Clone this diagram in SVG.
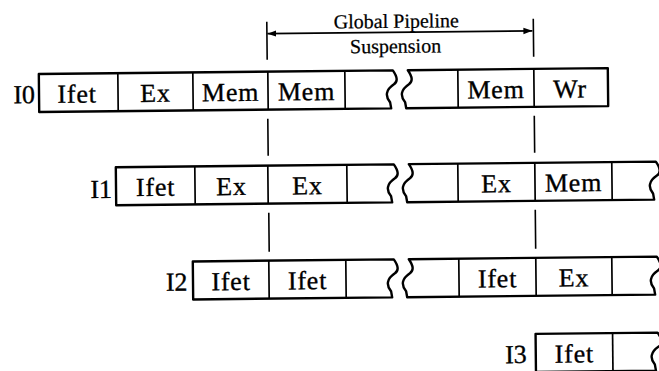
<svg xmlns="http://www.w3.org/2000/svg" width="659" height="371" viewBox="0 0 659 371">
  <defs>
    <marker id="ah" markerWidth="10" markerHeight="8" refX="9" refY="4" orient="auto-start-reverse" markerUnits="userSpaceOnUse">
      <path d="M0,0.8 L9,4 L0,7.2 Z" fill="#000"/>
    </marker>
  </defs>
  <style>
    .box{fill:#fff;stroke:#000;stroke-width:2.4;stroke-linejoin:round}
    .div{stroke:#000;stroke-width:1.7}
    .guide{stroke:#000;stroke-width:1.6;fill:none}
    .stg{font-family:"Liberation Serif","Times New Roman",serif;font-size:26px;letter-spacing:0.8px;text-anchor:middle;fill:#000;stroke:#000;stroke-width:0.35}
    .row{font-family:"Liberation Serif","Times New Roman",serif;font-size:26px;text-anchor:end;fill:#000;stroke:#000;stroke-width:0.35}
    .ttl{font-family:"Liberation Serif","Times New Roman",serif;font-size:20px;text-anchor:middle;fill:#000;stroke:#000;stroke-width:0.25}
  </style>
  <rect width="659" height="371" fill="#fff"/>
  <g transform="rotate(-0.6 330 185)">
    <!-- suspension window: guide lines and span arrow -->
    <g id="connectors">
      <path class="guide" d="M268.5,21 V59 M268.5,118 V155 M268.5,212 V251"/>
      <path class="guide" d="M535,21 V59 M535,118 V155 M535,212 V251"/>
      <line class="guide" x1="269" y1="33" x2="534" y2="33" stroke-width="1.3" marker-start="url(#ah)" marker-end="url(#ah)"/>
    </g>
    <g id="suspension-label">
      <text class="ttl" x="398" y="28.5">Global Pipeline</text>
      <text class="ttl" x="397" y="53.5">Suspension</text>
    </g>

    <!-- instruction I0 -->
    <g id="I0">
      <text class="row" x="36" y="100">I0</text>
      <path class="box" d="M40,71 H394 q7,10 1,14 q-12,8 -4,18 l1,6 H40 Z"/>
      <path class="box" d="M409,71 H609 V109 H407 l-1,-6 q-8,-10 4,-18 q6,-4 -1,-14 Z"/>
      <path class="div" d="M119,71 V109 M194,71 V109 M269,71 V109 M346,71 V109 M459,71 V109 M535,71 V109"/>
      <text class="stg" x="78" y="100">Ifet</text>
      <text class="stg" x="156.5" y="100">Ex</text>
      <text class="stg" x="231.5" y="100">Mem</text>
      <text class="stg" x="307.5" y="100">Mem</text>
      <text class="stg" x="497" y="100">Mem</text>
      <text class="stg" x="571" y="100">Wr</text>
    </g>

    <!-- instruction I1 -->
    <g id="I1">
      <text class="row" x="112" y="195.5">I1</text>
      <path class="box" d="M116,165 H394 q7,10 1,14 q-12,8 -4,18 l1,6 H116 Z"/>
      <path class="box" d="M409,165 H656 q7,10 1,14 q-12,8 -4,18 l1,6 H407 l-1,-6 q-8,-10 4,-18 q6,-4 -1,-14 Z"/>
      <path class="div" d="M195,165 V203 M268,165 V203 M347,165 V203 M458,165 V203 M535,165 V203 M612,165 V203"/>
      <text class="stg" x="155.5" y="194">Ifet</text>
      <text class="stg" x="231.5" y="194">Ex</text>
      <text class="stg" x="307.5" y="194">Ex</text>
      <text class="stg" x="496.5" y="194">Ex</text>
      <text class="stg" x="573.5" y="194">Mem</text>
    </g>

    <!-- instruction I2 -->
    <g id="I2">
      <text class="row" x="186.5" y="289">I2</text>
      <path class="box" d="M192,260 H393 q7,10 1,14 q-12,8 -4,18 l1,6 H192 Z"/>
      <path class="box" d="M408,260 H656 q7,10 1,14 q-12,8 -4,18 l1,6 H406 l-1,-6 q-8,-10 4,-18 q6,-4 -1,-14 Z"/>
      <path class="div" d="M268,260 V298 M345,260 V298 M458,260 V298 M535,260 V298 M611,260 V298"/>
      <text class="stg" x="230" y="289">Ifet</text>
      <text class="stg" x="306.5" y="289">Ifet</text>
      <text class="stg" x="496.5" y="289">Ifet</text>
      <text class="stg" x="573" y="289">Ex</text>
    </g>

    <!-- instruction I3 -->
    <g id="I3">
      <text class="row" x="525" y="365">I3</text>
      <path class="box" d="M534,336 H656 q7,10 1,14 q-12,8 -4,18 l1,6 H534 Z"/>
      <path class="div" d="M611,336 V376"/>
      <text class="stg" x="572.5" y="365">Ifet</text>
    </g>
  </g>
</svg>
